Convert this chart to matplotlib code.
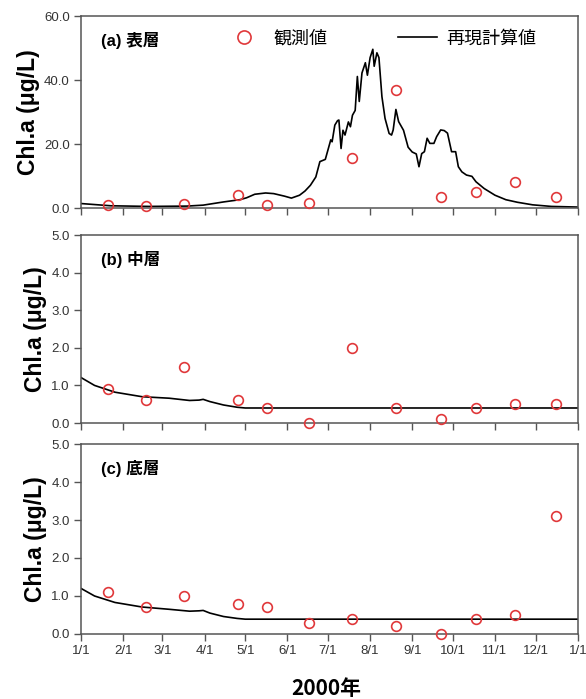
import numpy as np
import matplotlib
matplotlib.use('Agg')
import matplotlib.pyplot as plt
from matplotlib.ticker import FormatStrFormatter

plt.rcParams['font.family'] = ['Liberation Sans', 'Noto Sans CJK JP']

# month starts in 2000 (day of year, leap year)
month_days = [0, 31, 60, 91, 121, 152, 182, 213, 244, 274, 305, 335, 366]
month_labels = ['1/1', '2/1', '3/1', '4/1', '5/1', '6/1', '7/1', '8/1', '9/1',
                '10/1', '11/1', '12/1', '1/1']

# observation days (same sampling for all layers)
obs_days = [20, 48, 76, 116, 137, 168, 200, 232, 265, 291, 320, 350]
obs_surface = [1.0, 0.6, 1.4, 4.1, 1.1, 1.7, 15.5, 36.8, 3.3, 5.1, 8.1, 3.5]
obs_middle = [0.9, 0.6, 1.5, 0.6, 0.4, 0.0, 2.0, 0.4, 0.1, 0.4, 0.5, 0.5]
obs_bottom = [1.1, 0.7, 1.0, 0.8, 0.7, 0.3, 0.4, 0.2, 0.0, 0.4, 0.5, 3.1]

# simulated values
sim_surface_days = [0, 22, 50, 78, 90, 105, 117, 122, 128, 136, 142, 150, 155, 161,
                    165, 169, 173, 176, 180, 182.5, 184, 185, 187, 189, 190, 191.6,
                    193, 194.5, 197, 198.5, 200, 202, 203.6, 205, 207, 209.5, 211,
                    213, 215, 216, 218, 219.5, 221.7, 224, 227, 228.8, 230, 232,
                    234, 237.6, 241, 244, 247, 249, 251, 253, 255, 257, 260, 262,
                    265, 267.6, 270, 273, 276, 278, 280.6, 284, 288, 291, 297, 305,
                    313, 321.5, 332.7, 346.5, 366]
sim_surface = [1.4, 0.7, 0.5, 0.6, 0.9, 1.9, 2.6, 3.2, 4.3, 4.7, 4.5, 3.7, 3.1, 4.0,
               5.3, 7.1, 9.7, 14.5, 15.2, 19.0, 21.3, 20.7, 25.9, 27.3, 27.5, 18.6,
               24.3, 22.8, 26.9, 25.4, 29.0, 30.5, 41.1, 33.3, 42.2, 45.4, 41.5,
               47.0, 49.6, 44.3, 48.5, 47.0, 34.8, 28.0, 23.3, 22.8, 24.4, 30.8,
               27.0, 24.3, 19.0, 17.5, 16.9, 12.9, 17.0, 17.6, 21.8, 20.2, 20.2,
               22.3, 24.4, 24.2, 23.4, 17.6, 17.6, 12.9, 11.3, 10.3, 9.9, 8.2, 6.1,
               4.0, 2.6, 1.8, 1.0, 0.5, 0.3]

sim_middle_days = [0, 10, 25, 45, 65, 80, 87, 90, 95, 105, 115, 121, 366]
sim_middle = [1.21, 1.0, 0.82, 0.7, 0.66, 0.6, 0.61, 0.63, 0.57, 0.48, 0.42, 0.4, 0.4]

sim_bottom_days = [0, 10, 25, 45, 65, 80, 87, 90, 95, 105, 115, 121, 366]
sim_bottom = [1.2, 1.0, 0.83, 0.71, 0.65, 0.6, 0.61, 0.62, 0.55, 0.46, 0.41, 0.39, 0.39]

panels = [
    ('(a) 表層', obs_surface, sim_surface_days, sim_surface, 60, 20),
    ('(b) 中層', obs_middle, sim_middle_days, sim_middle, 5, 1),
    ('(c) 底層', obs_bottom, sim_bottom_days, sim_bottom, 5, 1),
]
boxes = [
    [0.1382, 0.7024, 0.8478, 0.2747],
    [0.1382, 0.3948, 0.8478, 0.2690],
    [0.1382, 0.0930, 0.8478, 0.2718],
]

fig = plt.figure(figsize=(5.86, 6.99), dpi=100)
red = '#e0383a'
axis_col = '#555555'

for i, (title, obs, sdays, sim, ymax, ystep) in enumerate(panels):
    ax = fig.add_axes(boxes[i])
    ax.plot(sdays, sim, color='black', linewidth=1.2, label='再現計算値')
    ax.plot(obs_days, obs, linestyle='none', marker='o', markersize=7,
            markerfacecolor='none', markeredgecolor=red, markeredgewidth=1.2,
            label='観測値', clip_on=False, zorder=5)
    ax.set_xlim(0, 366)
    ax.set_ylim(0, ymax)
    ax.set_yticks(np.arange(0, ymax + ystep / 2, ystep))
    ax.yaxis.set_major_formatter(FormatStrFormatter('%.1f'))
    ax.set_xticks(month_days)
    if i == 2:
        ax.set_xticklabels(month_labels)
    else:
        ax.set_xticklabels([])
    for sp in ax.spines.values():
        sp.set_color(axis_col)
        sp.set_linewidth(1.1)
    ax.tick_params(direction='out', length=5, width=1.0, color=axis_col,
                   labelsize=9.5, labelcolor='#333333', pad=3)
    ax.set_ylabel('Chl.a (μg/L)', fontsize=16.5, fontweight='bold', labelpad=3)
    ax.text(0.04, 0.87, title, transform=ax.transAxes, fontsize=12,
            fontweight='bold', va='center')
    if i == 0:
        handles, labels = ax.get_legend_handles_labels()
        ax.legend([handles[1], handles[0]], [labels[1], labels[0]], ncol=2,
                  frameon=False, prop={'size': 13},
                  loc='center left', bbox_to_anchor=(0.256, 0.88),
                  columnspacing=3.9, handlelength=2.2, handletextpad=0.5,
                  markerscale=1.35)

fig.text(0.557, 0.006, '2000年', ha='center', fontsize=15, fontweight='bold',
         family=['Noto Sans CJK JP'])

fig.savefig('out.png', dpi=100)
